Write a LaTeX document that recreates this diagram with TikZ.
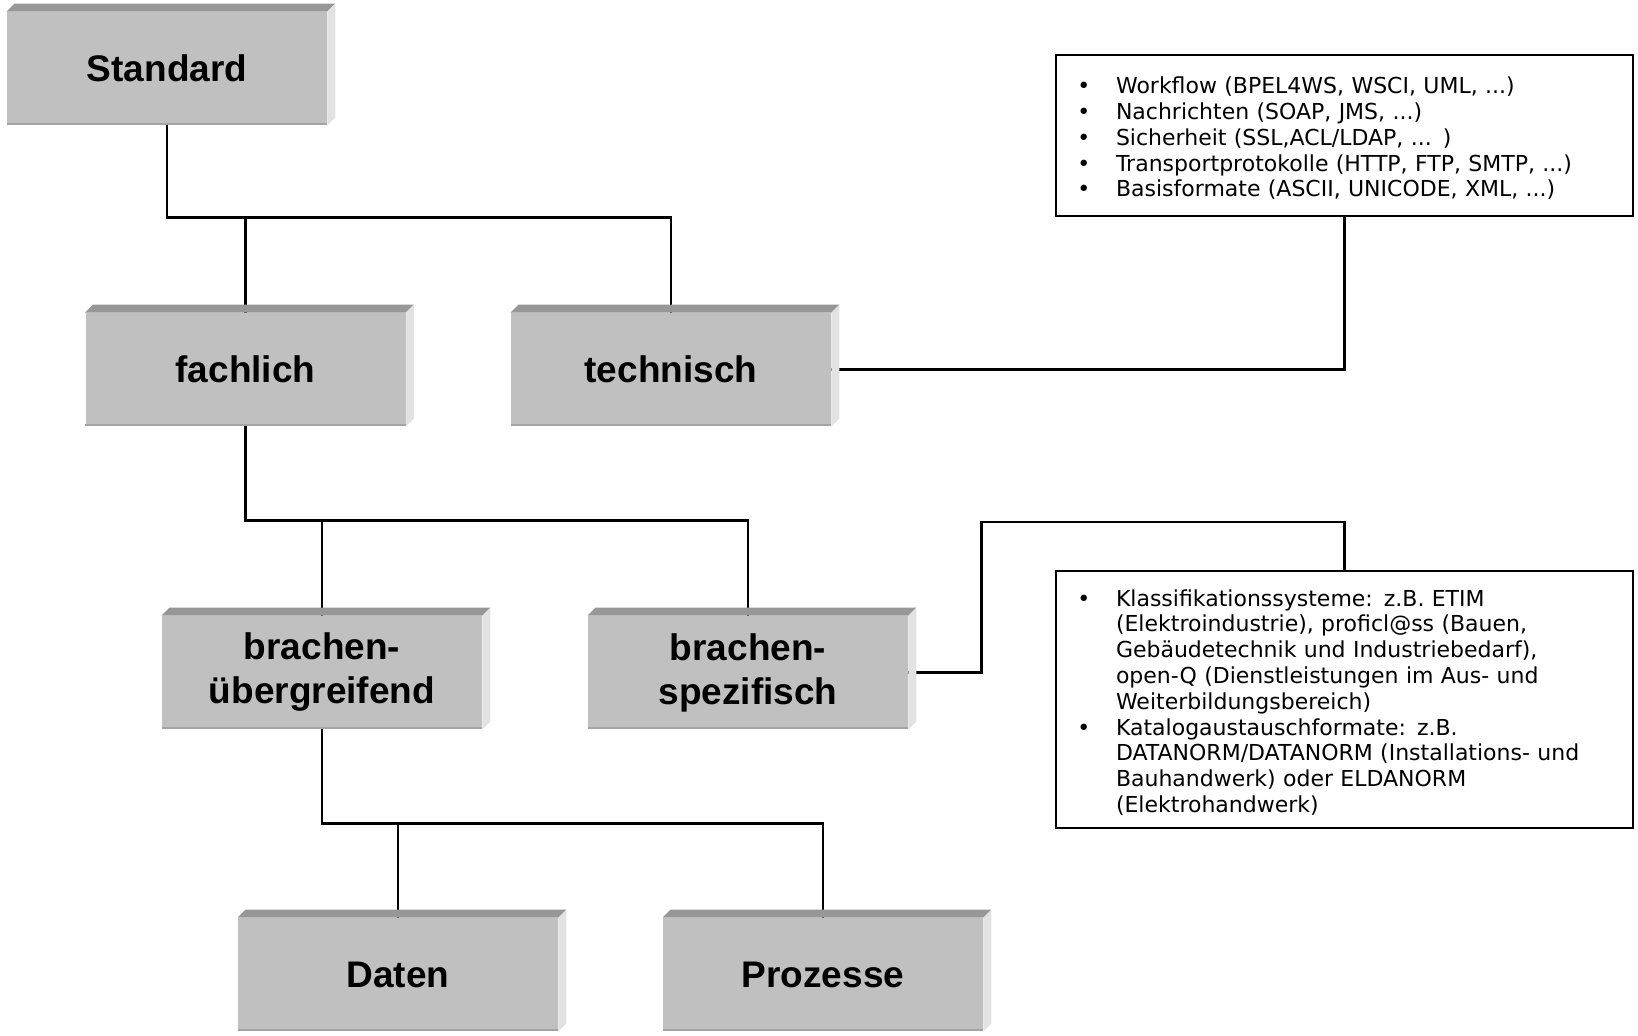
\documentclass[tikz,border=0pt]{standalone}
\usepackage{fontspec}
\setmainfont{Liberation Sans}
\newfontfamily\listfont{DejaVu Sans}
\usepackage{tikz}
\usetikzlibrary{calc}

\definecolor{frontgray}{HTML}{C0C0C0}
\definecolor{topgray}{HTML}{979797}
\definecolor{sidegray}{HTML}{E2E2E2}
\definecolor{edgegray}{HTML}{A4A4A4}

\begin{document}
\begin{tikzpicture}[x=0.5pt, y=-0.5pt,
  main/.style = {fill=frontgray, minimum width=160pt, minimum height=56.5pt,
    inner sep=0pt, align=center, font=\bfseries\fontsize{18.5}{22}\selectfont},
  info/.style = {draw, line width=1.2pt, inner xsep=10.7pt, inner ysep=0pt,
    text width=267.1pt, align=left, font=\listfont\fontsize{11}{12.9}\selectfont},
  line/.style = {line width=1.2pt}]

\useasboundingbox (0,0) rectangle (1638,1036);

% blocks
\node[main] (std)   at (167,68.5)   {Standard};
\node[main] (fach)  at (245.5,369.5) {fachlich};
\node[main] (tech)  at (671,369.5)  {technisch};
\node[main] (ueber) at (322,672.5)  {brachen-\\übergreifend};
\node[main] (spez)  at (748,672.5)  {brachen-\\spezifisch};
\node[main] (daten) at (398,974.5)  {Daten};
\node[main] (proz)  at (823,974.5)  {Prozesse};

% notes
\node[info, minimum height=80.5pt] (tx1) at (1344.5,135.5) {\raisebox{-2.3pt}[\height][\depth]{%
\begin{tabular}{@{}p{19.3pt}@{}l@{}}
\textbullet & Workflow (BPEL4WS, WSCI, UML, ...)\\
\textbullet & Nachrichten (SOAP, JMS, ...)\\
\textbullet & Sicherheit (SSL,ACL/LDAP, ... )\\
\textbullet & Transportprotokolle (HTTP, FTP, SMTP, ...)\\
\textbullet & Basisformate (ASCII, UNICODE, XML, ...)
\end{tabular}}};
\node[info, minimum height=128.5pt] (tx2) at (1344.5,699.5) {\raisebox{-2.3pt}[\height][\depth]{%
\begin{tabular}{@{}p{19.3pt}@{}l@{}}
\textbullet & Klassifikationssysteme: z.B. ETIM\\
 & (Elektroindustrie), proficl@ss (Bauen,\\
 & Gebäudetechnik und Industriebedarf),\\
 & open-Q (Dienstleistungen im Aus- und\\
 & Weiterbildungsbereich)\\
\textbullet & Katalogaustauschformate: z.B.\\
 & DATANORM/DATANORM (Installations- und\\
 & Bauhandwerk) oder ELDANORM\\
 & (Elektrohandwerk)
\end{tabular}}};

% tree lines
\coordinate (j1) at ($(std.south)+(0,92)$);
\coordinate (j2) at ($(fach.south)+(0,94)$);
\coordinate (j3) at ($(ueber.south)+(0,94)$);
\draw[line] (std.south) -- (j1) -| (tech.north);
\draw[line] (j1) -| (fach.north);
\draw[line] (fach.south) -- (j2) -| (spez.north);
\draw[line] (j2) -| (ueber.north);
\draw[line] (ueber.south) -- (j3) -| (proz.north);
\draw[line] (j3) -| (daten.north);

% lines to the notes
\coordinate (j4) at ($(tx2.north)+(0,-48)$);
\draw[line] (tech.east) -| (tx1.south);
\draw[line] (spez.east) -- ++(73,0) |- (j4) -- (tx2.north);

% bevels
\foreach \n in {std,fach,tech,ueber,spez,daten,proz} {
  \fill[topgray] (\n.north west) -- ([shift={(8,-8)}]\n.north west)
    -- ([shift={(8,-8)}]\n.north east) -- (\n.north east) -- cycle;
  \fill[sidegray] (\n.north east) -- ([shift={(8,-8)}]\n.north east)
    -- ([shift={(8,-8)}]\n.south east) -- (\n.south east) -- cycle;
  \draw[edgegray, line width=1pt] ([yshift=0.5pt]\n.south west) -- ([yshift=0.5pt]\n.south east);
}

\end{tikzpicture}
\end{document}
